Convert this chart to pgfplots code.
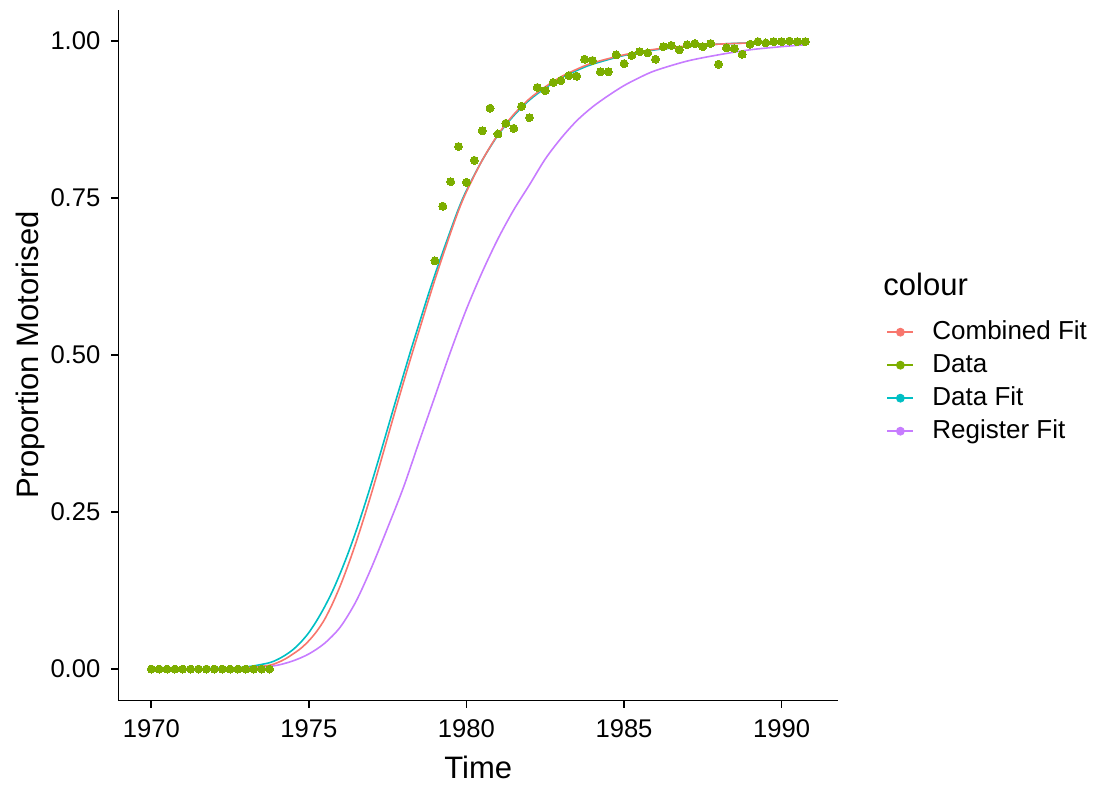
\documentclass[border=0pt]{standalone}
\usepackage{fontspec}
\setmainfont{Liberation Sans}
\usepackage{pgfplots}
\pgfplotsset{compat=1.18}
\definecolor{cRed}{HTML}{F8766D}
\definecolor{cGreen}{HTML}{7CAE00}
\definecolor{cCyan}{HTML}{00BFC4}
\definecolor{cPurple}{HTML}{C77CFF}

\pgfplotsset{
  legkey/.style={
    legend image code/.code={
      \draw[##1, line width=1pt] (0pt,0pt) -- (13pt,0pt);
      \fill[##1] (6.5pt,0pt) circle (2pt);
      \path[draw=none, fill=none] (0pt,0pt) -- (22.5pt,0pt);
    }
  }
}

\begin{document}
\begin{tikzpicture}
\path[use as bounding box] (-59.25pt,-41.8pt) rectangle (488.75pt,350.2pt);
\begin{axis}[
  at={(0pt,0pt)}, anchor=south west,
  scale only axis,
  width=359.75pt, height=345.4pt,
  xmin=1968.96, xmax=1991.79,
  ymin=-0.05, ymax=1.05,
  axis lines*=left,
  axis line style={line width=0.9pt, black},
  tick align=outside,
  major tick length=3.75pt,
  tick style={line width=0.9pt, black},
  xtick={1970,1975,1980,1985,1990},
  xticklabels={1970,1975,1980,1985,1990},
  ytick={0,0.25,0.5,0.75,1},
  yticklabels={0.00,0.25,0.50,0.75,1.00},
  ticklabel style={font=\fontsize{12.8}{12.8}\selectfont},
  xticklabel style={yshift=-2.5pt},
  yticklabel style={xshift=-1.8pt},
  xlabel={Time},
  ylabel={Proportion Motorised},
  xlabel style={font=\fontsize{15.5}{15.5}\selectfont, at={(rel axis cs:0.5,0)}, anchor=center, yshift=-33.5pt},
  ylabel style={font=\fontsize{15.5}{15.5}\selectfont, at={(axis description cs:-0.123,0.5)}, anchor=center},
  legend style={at={(1.0667,0.551)}, anchor=north west, draw=none, fill=none,
    inner sep=0pt, row sep=4.5pt,
    font=\fontsize{13}{13}\selectfont,
    nodes={inner sep=0pt, text height=9.5pt, text depth=2.5pt}},
  legend cell align=left,
]
% Data points
\addplot[only marks, color=cGreen, mark=*, mark size=2pt, mark options={fill=cGreen, draw=cGreen, line width=0pt}, forget plot] coordinates {
(1970.00,0) (1970.25,0) (1970.50,0) (1970.75,0) (1971.00,0) (1971.25,0) (1971.50,0) (1971.75,0)
(1972.00,0) (1972.25,0) (1972.50,0) (1972.75,0) (1973.00,0) (1973.25,0) (1973.50,0) (1973.75,0)
(1979.00,0.650) (1979.25,0.737) (1979.50,0.776) (1979.75,0.832)
(1980.00,0.775) (1980.25,0.810) (1980.50,0.857) (1980.75,0.893)
(1981.00,0.852) (1981.25,0.869) (1981.50,0.861) (1981.75,0.896)
(1982.00,0.878) (1982.25,0.926) (1982.50,0.921) (1982.75,0.934)
(1983.00,0.937) (1983.25,0.945) (1983.50,0.944) (1983.75,0.971)
(1984.00,0.969) (1984.25,0.951) (1984.50,0.951) (1984.75,0.978)
(1985.00,0.964) (1985.25,0.977) (1985.50,0.983) (1985.75,0.981)
(1986.00,0.971) (1986.25,0.991) (1986.50,0.993) (1986.75,0.986)
(1987.00,0.994) (1987.25,0.996) (1987.50,0.991) (1987.75,0.996)
(1988.00,0.963) (1988.25,0.989) (1988.50,0.988) (1988.75,0.979)
(1989.00,0.995) (1989.25,0.999) (1989.50,0.997) (1989.75,0.999)
(1990.00,0.999) (1990.25,1.000) (1990.50,0.999) (1990.75,0.999)
};
% Register Fit
\addplot[cPurple, line width=0.8pt, smooth, forget plot] coordinates {
(1970.0,0.000) (1972.0,0.000) (1973.0,0.001) (1973.5,0.003) (1974.0,0.006)
(1974.5,0.013) (1975.0,0.024) (1975.5,0.041) (1976.0,0.067) (1976.5,0.108)
(1977.0,0.163) (1977.5,0.225) (1978.0,0.289) (1978.5,0.362) (1979.0,0.434)
(1979.5,0.506) (1980.0,0.573) (1980.5,0.632) (1981.0,0.685) (1981.5,0.731)
(1982.0,0.771) (1982.5,0.812) (1983.0,0.845) (1983.5,0.873) (1984.0,0.895)
(1984.5,0.913) (1985.0,0.929) (1985.5,0.942) (1986.0,0.953) (1987.0,0.968)
(1988.0,0.978) (1989.0,0.986) (1990.0,0.991) (1990.75,0.994)
};
% Data Fit
\addplot[cCyan, line width=0.8pt, smooth, forget plot] coordinates {
(1970.00,0.000) (1971.00,0.000) (1972.00,0.001) (1972.75,0.002) (1973.25,0.005)
(1973.75,0.010) (1974.00,0.015) (1974.25,0.022) (1974.50,0.031) (1974.75,0.043)
(1975.00,0.058) (1975.25,0.077) (1975.50,0.099) (1975.75,0.124) (1976.00,0.153)
(1976.25,0.185) (1976.50,0.220) (1976.75,0.258) (1977.00,0.298) (1977.25,0.340)
(1977.50,0.383) (1977.75,0.426) (1978.00,0.468) (1978.25,0.510) (1978.50,0.550)
(1978.75,0.590) (1979.00,0.628) (1979.25,0.664) (1979.50,0.699) (1979.75,0.733)
(1980.00,0.762) (1980.50,0.810) (1981.00,0.850) (1981.50,0.881) (1982.00,0.906)
(1982.50,0.925) (1983.00,0.941) (1983.50,0.953) (1984.00,0.963) (1985.00,0.977)
(1986.00,0.986) (1987.00,0.991) (1988.00,0.995) (1989.00,0.997) (1990.00,0.998)
(1990.75,0.999)
};
% Combined Fit
\addplot[cRed, line width=0.8pt, smooth, forget plot] coordinates {
(1970.00,0.000) (1971.00,0.000) (1972.00,0.000) (1972.75,0.001) (1973.25,0.003)
(1973.75,0.006) (1974.00,0.010) (1974.25,0.016) (1974.50,0.024) (1974.75,0.033)
(1975.00,0.045) (1975.25,0.060) (1975.50,0.079) (1975.75,0.104) (1976.00,0.133)
(1976.25,0.166) (1976.50,0.202) (1976.75,0.241) (1977.00,0.282) (1977.25,0.325)
(1977.50,0.369) (1977.75,0.413) (1978.00,0.456) (1978.25,0.498) (1978.50,0.539)
(1978.75,0.580) (1979.00,0.620) (1979.25,0.658) (1979.50,0.695) (1979.75,0.730)
(1980.00,0.760) (1980.50,0.810) (1981.00,0.851) (1981.50,0.883) (1982.00,0.908)
(1982.50,0.927) (1983.00,0.943) (1983.50,0.955) (1984.00,0.965) (1985.00,0.978)
(1986.00,0.987) (1987.00,0.992) (1988.00,0.995) (1989.00,0.997) (1990.00,0.999)
(1990.75,0.999)
};
\addlegendimage{legkey, cRed}\addlegendentry{Combined Fit}
\addlegendimage{legkey, cGreen}\addlegendentry{Data}
\addlegendimage{legkey, cCyan}\addlegendentry{Data Fit}
\addlegendimage{legkey, cPurple}\addlegendentry{Register Fit}
\end{axis}
\node[anchor=base west, inner sep=0pt, font=\fontsize{15.5}{15.5}\selectfont] at (382.25pt,202.7pt) {colour};
\end{tikzpicture}
\end{document}
